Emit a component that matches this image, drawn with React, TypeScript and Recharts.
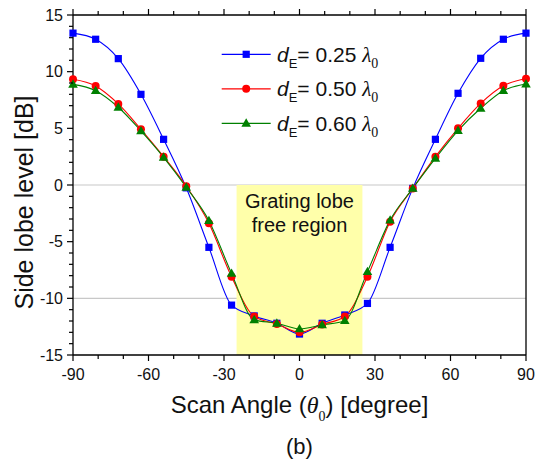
import React from 'react';
import {
  LineChart,
  Line,
  XAxis,
  YAxis,
  CartesianGrid,
  ReferenceArea,
  Legend,
} from 'recharts';

// Scan angle (degrees) and side lobe level (dB) for three element spacings
const scanAngles = [-90, -81, -72, -63, -54, -45, -36, -27, -18, -9, 0, 9, 18, 27, 36, 45, 54, 63, 72, 81, 90];
const sllSpacing025 = [13.4, 12.86, 11.15, 8.0, 4.03, -0.25, -5.5, -10.6, -11.55, -12.2, -13.15, -12.2, -11.47, -10.45, -5.5, -0.3, 4.03, 8.09, 11.18, 12.86, 13.4];
const sllSpacing050 = [9.33, 8.74, 7.15, 4.91, 2.5, -0.1, -3.38, -8.1, -11.6, -12.27, -13.0, -12.3, -11.6, -8.1, -3.24, -0.3, 2.5, 5.0, 7.2, 8.76, 9.38];
const sllSpacing060 = [8.88, 8.32, 6.86, 4.77, 2.44, -0.2, -3.15, -7.8, -11.9, -12.2, -12.7, -12.35, -11.97, -7.65, -3.1, -0.3, 2.35, 4.8, 6.77, 8.32, 8.91];

const spacingLabels = ['0.25', '0.50', '0.60'];
const xTicks = [-90, -80, -70, -60, -50, -40, -30, -20, -10, 0, 10, 20, 30, 40, 50, 60, 70, 80, 90];
const yTicks = [-15, -14, -13, -12, -11, -10, -9, -8, -7, -6, -5, -4, -3, -2, -1, 0, 1, 2, 3, 4, 5, 6, 7, 8, 9, 10, 11, 12, 13, 14, 15];
const gridLevels = [0, -10];
const freeRegion = [-25, 25];

const FONT = '"Liberation Sans", Arial, Helvetica, sans-serif';
const SERIF = '"Liberation Serif", "Times New Roman", serif';

const data = scanAngles.map((angle, i) => ({
  angle,
  s025: sllSpacing025[i],
  s050: sllSpacing050[i],
  s060: sllSpacing060[i],
}));

type MarkerKind = 'square' | 'circle' | 'triangle';

const series: { key: string; color: string; marker: MarkerKind; label: string }[] = [
  { key: 's025', color: '#0000ff', marker: 'square', label: spacingLabels[0] },
  { key: 's050', color: '#ff0000', marker: 'circle', label: spacingLabels[1] },
  { key: 's060', color: '#008000', marker: 'triangle', label: spacingLabels[2] },
];

function Marker({ cx, cy, kind, color }: { cx: number; cy: number; kind: MarkerKind; color: string }) {
  if (cx == null || cy == null) return null;
  if (kind === 'square') {
    return <rect x={cx - 3.6} y={cy - 3.6} width={7.2} height={7.2} fill={color} />;
  }
  if (kind === 'circle') {
    return <circle cx={cx} cy={cy} r={4} fill={color} />;
  }
  return (
    <path
      d={`M${cx},${cy - 5} L${cx + 4.8},${cy + 3.4} L${cx - 4.8},${cy + 3.4} Z`}
      fill={color}
    />
  );
}

const AXIS_STROKE = '#000';

function BottomTick(props: any) {
  const { x, y, payload } = props;
  const v = payload.value;
  const major = v % 30 === 0;
  return (
    <g>
      <line x1={x} y1={y} x2={x} y2={y + (major ? 6 : 4)} stroke={AXIS_STROKE} strokeWidth={1.2} />
      {major && (
        <text x={x} y={y + 25} textAnchor="middle" fontSize={16} fontFamily={FONT} fill="#111">
          {v}
        </text>
      )}
    </g>
  );
}

function TopTick(props: any) {
  const { x, y, payload } = props;
  const major = payload.value % 30 === 0;
  return <line x1={x} y1={y} x2={x} y2={y - (major ? 6 : 4)} stroke={AXIS_STROKE} strokeWidth={1.2} />;
}

function LeftTick(props: any) {
  const { x, y, payload } = props;
  const v = payload.value;
  const major = v % 5 === 0;
  return (
    <g>
      <line x1={x} y1={y} x2={x - (major ? 6 : 4)} y2={y} stroke={AXIS_STROKE} strokeWidth={1.2} />
      {major && (
        <text x={x - 10} y={y + 5.7} textAnchor="end" fontSize={16} fontFamily={FONT} fill="#111">
          {v}
        </text>
      )}
    </g>
  );
}

function RightTick(props: any) {
  const { x, y, payload } = props;
  const major = payload.value % 5 === 0;
  return <line x1={x} y1={y} x2={x + (major ? 6 : 4)} y2={y} stroke={AXIS_STROKE} strokeWidth={1.2} />;
}

function XTitle(props: any) {
  const vb = props.viewBox || { x: 73, y: 355, width: 453, height: 30 };
  const cx = vb.x + vb.width / 2;
  return (
    <g>
      <text x={cx} y={vb.y + 58} textAnchor="middle" fontSize={24} fontFamily={FONT} fill="#111">
        Scan Angle (
        <tspan fontFamily={SERIF} fontStyle="italic">θ</tspan>
        <tspan fontFamily={SERIF} fontSize={14} dy={8}>0</tspan>
        <tspan dy={-8}>) [degree]</tspan>
      </text>
      <text x={cx} y={vb.y + 99} textAnchor="middle" fontSize={22} fontFamily={FONT} fill="#111">
        (b)
      </text>
    </g>
  );
}

function YTitle(props: any) {
  const vb = props.viewBox || { x: 0, y: 15, width: 73, height: 340 };
  const cy = vb.y + vb.height / 2 + 17.5;
  return (
    <text
      transform="rotate(-90)"
      x={-cy}
      y={33}
      textAnchor="middle"
      fontSize={25}
      fontFamily={FONT}
      fill="#111"
    >
      Side lobe level [dB]
    </text>
  );
}

function RegionLabel(props: any) {
  const vb = props.viewBox || { x: 237, y: 185, width: 126, height: 170 };
  const cx = vb.x + vb.width / 2;
  return (
    <g>
      <text x={cx} y={vb.y + 23} textAnchor="middle" fontSize={20} fontFamily={FONT} fill="#111">
        Grating lobe
      </text>
      <text x={cx} y={vb.y + 47} textAnchor="middle" fontSize={20} fontFamily={FONT} fill="#111">
        free region
      </text>
    </g>
  );
}

function SpacingLegend() {
  return (
    <svg width={175} height={110} style={{ overflow: 'visible' }}>
      {series.map((s, i) => {
        const y = 18.3 + i * 34.5;
        return (
          <g key={s.key}>
            <line x1={6.7} y1={y} x2={55.7} y2={y} stroke={s.color} strokeWidth={1.2} />
            <Marker cx={31.2} cy={y} kind={s.marker} color={s.color} />
            <text x={62} y={y + 7.5} fontSize={21} fontFamily={FONT} fill="#111">
              <tspan fontStyle="italic">d</tspan>
              <tspan fontSize={13} dy={6}>E</tspan>
              <tspan dy={-6}>= {s.label} </tspan>
              <tspan fontFamily={SERIF} fontStyle="italic">λ</tspan>
              <tspan fontFamily={SERIF} fontSize={14} dy={6}>0</tspan>
            </text>
          </g>
        );
      })}
    </svg>
  );
}

export default function App() {
  return (
    <div style={{ position: 'absolute', left: 0, top: 0, width: 537, height: 461, background: '#fff' }}>
      <LineChart
        width={537}
        height={461}
        data={data}
        margin={{ top: 0, right: 0, bottom: 76, left: 0 }}
      >
        <CartesianGrid
          xAxisId="b"
          yAxisId="l"
          vertical={false}
          horizontalValues={gridLevels}
          stroke="#c8c8c8"
          strokeWidth={1.2}
        />
        <ReferenceArea
          xAxisId="b"
          yAxisId="l"
          x1={freeRegion[0]}
          x2={freeRegion[1]}
          y1={-15}
          y2={0}
          fill="#ffffaa"
          fillOpacity={1}
          stroke="none"
          label={(p: any) => <RegionLabel {...p} />}
        />
        <XAxis
          xAxisId="b"
          dataKey="angle"
          type="number"
          domain={[-90, 90]}
          ticks={xTicks}
          interval={0}
          height={30}
          tickSize={0}
          tickMargin={0}
          tickLine={false}
          tick={<BottomTick />}
          axisLine={{ stroke: AXIS_STROKE, strokeWidth: 1.3 }}
          label={(p: any) => <XTitle {...p} />}
        />
        <XAxis
          xAxisId="t"
          orientation="top"
          dataKey="angle"
          type="number"
          domain={[-90, 90]}
          ticks={xTicks}
          interval={0}
          height={15}
          tickSize={0}
          tickMargin={0}
          tickLine={false}
          tick={<TopTick />}
          axisLine={{ stroke: AXIS_STROKE, strokeWidth: 1.3 }}
        />
        <YAxis
          yAxisId="l"
          type="number"
          domain={[-15, 15]}
          ticks={yTicks}
          interval={0}
          width={73}
          tickSize={0}
          tickMargin={0}
          tickLine={false}
          tick={<LeftTick />}
          axisLine={{ stroke: AXIS_STROKE, strokeWidth: 1.3 }}
          label={(p: any) => <YTitle {...p} />}
        />
        <YAxis
          yAxisId="r"
          orientation="right"
          type="number"
          domain={[-15, 15]}
          ticks={yTicks}
          interval={0}
          width={11}
          tickSize={0}
          tickMargin={0}
          tickLine={false}
          tick={<RightTick />}
          axisLine={{ stroke: AXIS_STROKE, strokeWidth: 1.3 }}
        />
        {series.map((s) => (
          <Line
            key={s.key}
            xAxisId="b"
            yAxisId="l"
            type="monotone"
            dataKey={s.key}
            stroke={s.color}
            strokeWidth={1.1}
            isAnimationActive={false}
            dot={(p: any) => (
              <Marker key={`${s.key}-${p.index}`} cx={p.cx} cy={p.cy} kind={s.marker} color={s.color} />
            )}
            activeDot={false}
          />
        ))}
        <Legend
          verticalAlign="middle"
          layout="horizontal"
          content={() => <SpacingLegend />}
          wrapperStyle={{ left: 215, top: 36, width: 175, height: 110 }}
        />
      </LineChart>
    </div>
  );
}
